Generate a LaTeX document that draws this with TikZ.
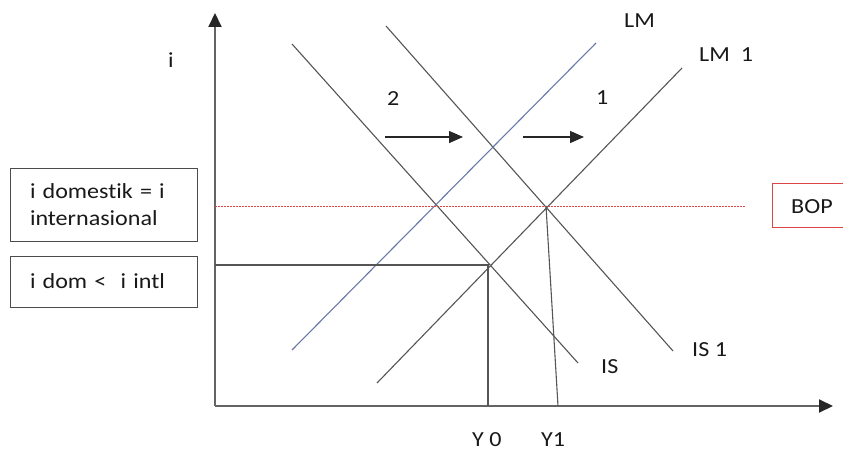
\documentclass[tikz,border=0pt]{standalone}
\usepackage{fontspec}
\setmainfont{Carlito}[FakeStretch=1.12, Ligatures={NoCommon}]
\usetikzlibrary{arrows.meta}
\definecolor{ln}{RGB}{85,85,85}
\definecolor{ax}{RGB}{100,100,100}
\definecolor{lmblue}{RGB}{105,120,170}
\definecolor{bopred}{RGB}{220,70,70}
\definecolor{txt}{RGB}{25,25,25}
\begin{document}
\begin{tikzpicture}[x=1pt,y=-1pt,
  font=\fontsize{21.5}{27}\selectfont, text=txt,
  curve/.style={draw=ln, line width=1.1pt},
  axisline/.style={draw=ax, line width=2pt, -{Triangle[length=14pt,width=13pt,color=black!85]}},
  shiftarrow/.style={draw=black!85, line width=1.4pt, -{Triangle[length=14pt,width=12pt,color=black!85]}},
  lbl/.style={inner sep=0pt, anchor=base west},
  infobox/.style={draw=black!70, line width=1pt, inner xsep=20pt, inner ysep=0pt, align=left}]
\useasboundingbox (0,0) rectangle (843,452);
% axes
\coordinate (O) at (215,406);
\coordinate (Ytop) at (215,13);
\coordinate (Xend) at (833,406);
\draw[axisline] (O) -- (Ytop);
\draw[axisline] (O) -- (Xend);
% curves
\coordinate (IS-a) at (292,44);   \coordinate (IS-b) at (578,363);
\coordinate (IS1-a) at (386,26);  \coordinate (IS1-b) at (673,351);
\coordinate (LM-a) at (292,350);  \coordinate (LM-b) at (596,43);
\coordinate (LM1-a) at (377,383); \coordinate (LM1-b) at (682,68);
\draw[curve] (IS-a) -- (IS-b);
\draw[curve] (IS1-a) -- (IS1-b);
\draw[draw=lmblue, line width=1.1pt] (LM-a) -- (LM-b);
\draw[curve] (LM1-a) -- (LM1-b);
% BOP line
\coordinate (bopL) at (215,206);
\coordinate (bopR) at (746,206);
\draw[bopred, line width=1pt, dash pattern=on 1.5pt off 1.5pt] (bopL) -- (bopR);
% equilibria
\coordinate (E0) at (488,265);
\coordinate (E1) at (546,206);
\coordinate (Y0b) at (488,406);
\coordinate (Y1b) at (558,406);
\coordinate (Ei) at (215,265);
\draw[curve] (Ei) -- (E0) -- (Y0b);
\draw[curve] (E1) -- (Y1b);
% shift arrows
\coordinate (a2s) at (385,137); \coordinate (a2e) at (463,137);
\coordinate (a1s) at (523,137); \coordinate (a1e) at (584,137);
\draw[shiftarrow] (a2s) -- (a2e);
\draw[shiftarrow] (a1s) -- (a1e);
% labels
\node[lbl] (li) at (168,67) {i};
\node[lbl] (l2) at (387,105) {2};
\node[lbl] (l1) at (596,104) {1};
\node[lbl] (lLM) at (624,28) {LM};
\node[lbl] (lLM1) at (699,62) {LM\ \ 1};
\node[lbl] (lIS) at (601,373) {IS};
\node[lbl] (lIS1) at (692,356) {IS 1};
\node[lbl] (lY0) at (472,446) {Y 0};
\node[lbl] (lY1) at (541,446) {Y1};
% boxes
\node[infobox, text width=147pt, minimum height=73pt] (box1) at (103.5,204.5) {i domestik = i\\internasional};
\node[infobox, text width=147pt, minimum height=51pt] (box2) at (103.5,281.5) {i dom {<}\ \ i intl};
\node[draw=bopred, line width=1pt, minimum width=84pt, minimum height=44pt, inner sep=0pt] (bop) at (814,205) {};
\node[lbl] (lBOP) at (791,213) {BOP};
\end{tikzpicture}
\end{document}
